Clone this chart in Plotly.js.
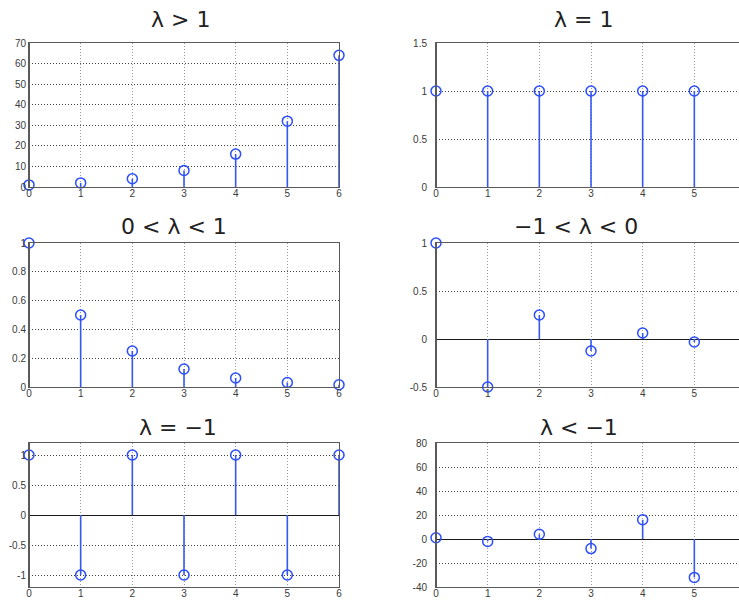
<!DOCTYPE html>
<html>
<head>
<meta charset="utf-8">
<script src="https://cdn.plot.ly/plotly-3.0.1.min.js"></script>
<style>
  html, body { margin: 0; padding: 0; background: #fff; }
  #chart { width: 739px; height: 600px; }
</style>
</head>
<body>
<div id="chart"></div>
<script>
// Sample indices
const nLong = [0, 1, 2, 3, 4, 5, 6];
const nShort = [0, 1, 2, 3, 4, 5];

// Sequence values y[n] = lambda^n for each case
const growth = [1, 2, 4, 8, 16, 32, 64];                                   // λ > 1
const constant = [1, 1, 1, 1, 1, 1];                                        // λ = 1
const decay = [1, 0.5, 0.25, 0.125, 0.0625, 0.03125, 0.015625];              // 0 < λ < 1
const dampedAlt = [1, -0.5, 0.25, -0.125, 0.0625, -0.03125];                 // -1 < λ < 0
const alternating = [1, -1, 1, -1, 1, -1, 1];                               // λ = -1
const growingAlt = [1, -2, 4, -8, 16, -32];                                 // λ < -1

// Panel titles
const titles = ["λ > 1", "λ = 1", "0 < λ < 1", "−1 < λ < 0", "λ = −1", "λ < −1"];

// Tick labels
const xTicks = [0, 1, 2, 3, 4, 5, 6];
const yTicks1 = [0, 10, 20, 30, 40, 50, 60, 70];
const yTicks2 = [0, 0.5, 1, 1.5];
const yTicks3 = [0, 0.2, 0.4, 0.6, 0.8, 1];
const yTicks4 = [-0.5, 0, 0.5, 1];
const yText4 = ["-0.5", "0", "0.5", "1"];
const yTicks5 = [-1, -0.5, 0, 0.5, 1];
const yText5 = ["-1", "-0.5", "0", "0.5", "1"];
const yTicks6 = [-40, -20, 0, 20, 40, 60, 80];
const yText6 = ["-40", "-20", "0", "20", "40", "60", "80"];

const W = 739, H = 600;
const STEM = '#3558f2';
const MARK = '#2a4dff';
const FRAME = '#5a5a5a';

// Stem lines: vertical segment from 0 to each value
function stemLines(xs, ys) {
  const sx = [], sy = [];
  xs.forEach((x, i) => { sx.push(x, x, null); sy.push(0, ys[i], null); });
  return { sx, sy };
}

const panels = [
  { n: nLong, v: growth },
  { n: nShort, v: constant },
  { n: nLong, v: decay },
  { n: nShort, v: dampedAlt },
  { n: nLong, v: alternating },
  { n: nShort, v: growingAlt }
];

const traces = [];
panels.forEach((p, i) => {
  const k = i + 1;
  const xa = k === 1 ? 'x' : 'x' + k;
  const ya = k === 1 ? 'y' : 'y' + k;
  const s = stemLines(p.n, p.v);
  traces.push({
    type: 'scatter', mode: 'lines', x: s.sx, y: s.sy, xaxis: xa, yaxis: ya,
    line: { color: STEM, width: 1.6 }, hoverinfo: 'skip', cliponaxis: true
  });
  traces.push({
    type: 'scatter', mode: 'markers', x: p.n, y: p.v, xaxis: xa, yaxis: ya,
    marker: { symbol: 'circle-open', size: 10, color: MARK, line: { width: 1.5, color: MARK } },
    cliponaxis: false
  });
});

// Pixel boxes of the plot areas
const boxes = [
  { l: 29, r: 339, t: 43, b: 187 },
  { l: 436, r: 739, t: 43, b: 187 },
  { l: 29, r: 339, t: 243, b: 387 },
  { l: 436, r: 739, t: 243, b: 387 },
  { l: 29, r: 339, t: 443, b: 587 },
  { l: 436, r: 739, t: 443, b: 587 }
];

const tickFont = { family: 'Liberation Sans, Arial, sans-serif', size: 10, color: '#3a3a3a' };

const yCfg = [
  { range: [0, 70], tickvals: yTicks1 },
  { range: [0, 1.5], tickvals: yTicks2 },
  { range: [0, 1], tickvals: yTicks3 },
  { range: [-0.5, 1], tickvals: yTicks4, ticktext: yText4 },
  { range: [-1.2, 1.2], tickvals: yTicks5, ticktext: yText5 },
  { range: [-40, 80], tickvals: yTicks6, ticktext: yText6 }
];

const layout = {
  width: W, height: H,
  margin: { l: 0, r: 0, t: 0, b: 0 },
  paper_bgcolor: '#fff', plot_bgcolor: '#fff',
  showlegend: false,
  annotations: [],
  shapes: []
};

boxes.forEach((b, i) => {
  const k = i + 1;
  const right = i % 2 === 1;
  const xName = k === 1 ? 'xaxis' : 'xaxis' + k;
  const yName = k === 1 ? 'yaxis' : 'yaxis' + k;
  const yAnchor = k === 1 ? 'y' : 'y' + k;
  const xAnchor = k === 1 ? 'x' : 'x' + k;
  const unit = (339 - 29) / 6;
  layout[xName] = {
    domain: [b.l / W, b.r / W],
    anchor: yAnchor,
    range: right ? [0, (b.r - b.l) / unit] : [0, 6],
    tickvals: xTicks,
    showgrid: true, gridcolor: '#9a9a9a', griddash: '1px,2px', gridwidth: 1,
    showline: true, linecolor: FRAME, linewidth: 1, mirror: true,
    zeroline: false, ticks: '', tickfont: tickFont, fixedrange: true,
    ticklabelstandoff: -3
  };
  layout[yName] = Object.assign({
    domain: [1 - b.b / H, 1 - b.t / H],
    anchor: xAnchor,
    showgrid: true, gridcolor: '#444', griddash: '1px,2px', gridwidth: 1,
    showline: true, linecolor: FRAME, linewidth: 1, mirror: !right,
    zeroline: i >= 3, zerolinecolor: '#1a1a1a', zerolinewidth: 1,
    ticks: '', tickfont: tickFont, fixedrange: true,
    ticklabelstandoff: right ? 6 : 0
  }, yCfg[i]);

  // Left frame edge drawn over the data so the n = 0 stem sits under it
  layout.shapes.push({
    type: 'line', layer: 'above',
    xref: k === 1 ? 'x domain' : 'x' + k + ' domain',
    yref: k === 1 ? 'y domain' : 'y' + k + ' domain',
    x0: 0, x1: 0, y0: 0, y1: 1,
    line: { color: FRAME, width: 2 }
  });
});

// Panel titles
const titlePos = [
  { x: 180, y: 20 }, { x: 583, y: 20 },
  { x: 174, y: 226 }, { x: 576, y: 226 },
  { x: 178, y: 427 }, { x: 579, y: 427 }
];
titles.forEach((t, i) => {
  layout.annotations.push({
    text: t, xref: 'paper', yref: 'paper',
    x: titlePos[i].x / W, y: 1 - titlePos[i].y / H,
    xanchor: 'center', yanchor: 'middle', showarrow: false,
    font: { family: 'DejaVu Sans, sans-serif', size: 22, color: '#222' }
  });
});

Plotly.newPlot('chart', traces, layout, { displayModeBar: false, staticPlot: true });
</script>
</body>
</html>
